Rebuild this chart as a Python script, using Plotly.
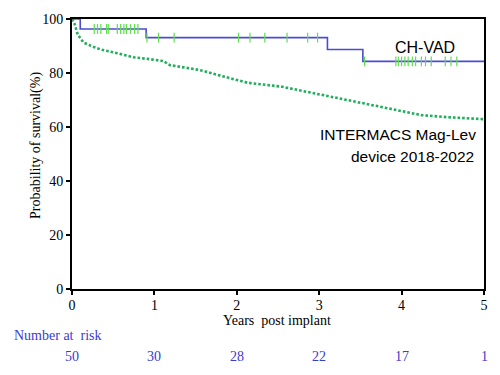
import plotly.graph_objects as go

# CH-VAD Kaplan-Meier step data
chvad_t = [0, 0.10, 0.90, 3.10, 3.53, 5.0]
chvad_s = [100, 96.3, 93.1, 88.7, 84.3, 84.3]
# censor times (ticks)
censor_t = [0.27, 0.31, 0.35, 0.42, 0.44, 0.55, 0.59, 0.63, 0.66, 0.71, 0.76, 0.80,
            0.91, 1.05, 1.24, 2.02, 2.16, 2.34, 2.61, 2.86, 2.98,
            3.55, 3.93, 3.96, 4.00, 4.04, 4.08, 4.13, 4.17, 4.24, 4.29, 4.36,
            4.53, 4.60, 4.67]

# INTERMACS Mag-Lev curve
inter_t = [0, 0.03, 0.07, 0.14, 0.25, 0.35, 0.55, 0.75, 0.95, 1.11, 1.19, 1.55,
           1.95, 2.13, 2.55, 2.96, 3.36, 3.76, 4.17, 4.24, 4.57, 5.0]
inter_s = [100, 98.3, 94.2, 91.3, 89.8, 88.7, 87.3, 85.8, 85.1, 84.4, 82.9, 81.1,
           77.8, 76.4, 74.9, 72.4, 69.8, 67.6, 65.1, 64.4, 63.6, 62.9]

risk_years = [0, 1, 2, 3, 4, 5]
risk_counts = [50, 30, 28, 22, 17, 1]
y_ticks = [0, 20, 40, 60, 80, 100]


def step_value(t):
    v = chvad_s[0]
    for tt, ss in zip(chvad_t, chvad_s):
        if t >= tt:
            v = ss
    return v

censor_s = [step_value(t) for t in censor_t]

fig = go.Figure()
fig.add_trace(go.Scatter(x=inter_t, y=inter_s, mode="lines",
                         line=dict(color="#1fae5c", width=2.6, dash="2.6px,2px"),
                         showlegend=False))
fig.add_trace(go.Scatter(x=chvad_t, y=chvad_s, mode="lines", line_shape="hv",
                         line=dict(color="#4b4bd6", width=1.6), showlegend=False))
fig.add_trace(go.Scatter(x=censor_t, y=censor_s, mode="markers",
                         marker=dict(symbol="line-ns", size=7,
                                     line=dict(color="#5fe04a", width=1.2)),
                         showlegend=False))

serif = "Liberation Serif, Times New Roman, serif"
sans = "Liberation Sans, Arial, sans-serif"
L, R, T, B = 72, 13, 14, 86
W, H = 500, 375
pw, ph = W - L - R, H - T - B


def px(x):
    return (x - L) / pw


def py(y):
    return (H - B - y) / ph


fig.update_layout(
    width=W, height=H,
    margin=dict(l=L, r=R, t=T, b=B),
    paper_bgcolor="white", plot_bgcolor="white",
    font=dict(family=serif, size=14, color="black"),
    xaxis=dict(range=[0, 5], tickvals=risk_years, ticks="outside", ticklen=4,
               tickwidth=1.5, tickcolor="black", showline=True, linecolor="black",
               linewidth=2, mirror=True, showgrid=False, zeroline=False,
               ticklabelstandoff=-2,
               tickfont=dict(family=serif, size=14, color="black")),
    yaxis=dict(range=[0, 100], tickvals=y_ticks, ticks="outside", ticklen=4,
               tickwidth=1.5, tickcolor="black", showline=True, linecolor="black",
               linewidth=2, mirror=True, showgrid=False, zeroline=False,
               tickfont=dict(family=serif, size=14, color="black")),
)

ann = []
ann.append(dict(text="Probability of survival(%)", xref="paper", yref="paper",
                x=px(35), y=py(143), textangle=-90, showarrow=False,
                xanchor="center", yanchor="middle",
                font=dict(family=serif, size=14, color="black")))
ann.append(dict(text="Years  post implant", xref="paper", yref="paper",
                x=px(278), y=py(321), showarrow=False, xanchor="center", yanchor="middle",
                font=dict(family=serif, size=14, color="black")))
ann.append(dict(text="Number at  risk", xref="paper", yref="paper",
                x=px(12), y=py(336), xanchor="left", yanchor="middle", showarrow=False,
                font=dict(family=serif, size=14, color="#3b3bcc")))
for yr, c in zip(risk_years, risk_counts):
    ann.append(dict(text=str(c), xref="x", yref="paper", x=yr, y=py(358),
                    showarrow=False, xanchor="center", yanchor="middle",
                    font=dict(family=serif, size=14, color="#3b3bcc")))
ann.append(dict(text="CH-VAD", xref="paper", yref="paper",
                x=px(428), y=py(43), showarrow=False, xanchor="center",
                yanchor="middle", font=dict(family=sans, size=16, color="black")))
ann.append(dict(text="INTERMACS Mag-Lev", xref="paper", yref="paper",
                x=px(481), y=py(132), showarrow=False,
                xanchor="right", yanchor="middle",
                font=dict(family=sans, size=15.5, color="black")))
ann.append(dict(text="device 2018-2022", xref="paper", yref="paper",
                x=px(479), y=py(154), showarrow=False,
                xanchor="right", yanchor="middle",
                font=dict(family=sans, size=15.5, color="black")))
fig.update_layout(annotations=ann)

fig.write_html("out.html", config={"displayModeBar": False},
               post_script="document.body.style.margin='0px';")
